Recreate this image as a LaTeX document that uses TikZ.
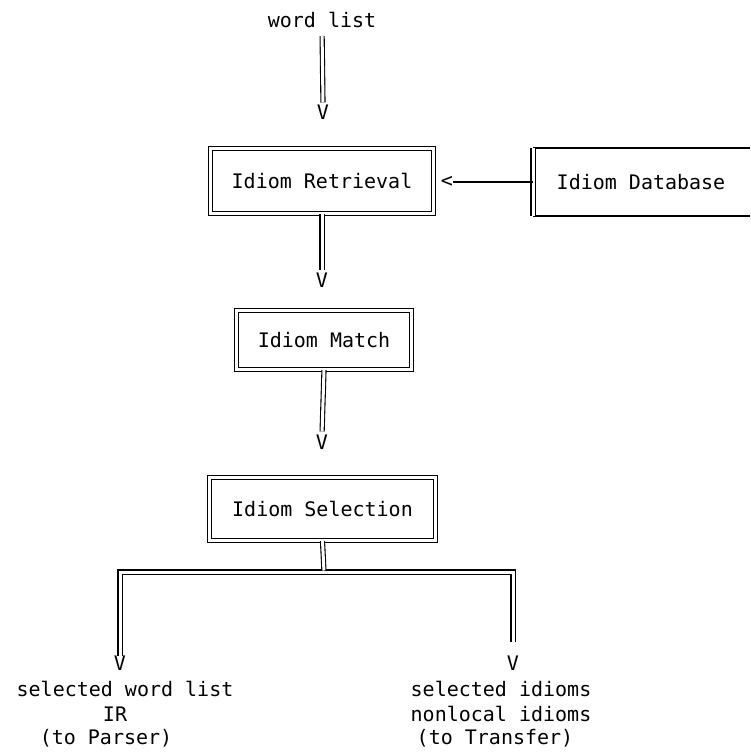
\documentclass[tikz,border=0pt]{standalone}
\usepackage{fontspec}
\newfontfamily\monofam{DejaVu Sans Mono}
\begin{document}
\begin{tikzpicture}[x=1pt,y=1pt,
  txt/.style={font=\monofam\fontsize{20}{26}\selectfont, inner sep=0pt},
  dblline/.style={draw, double, double distance=3pt, line width=1.1pt},
  boxst/.style={txt, dblline},
  feed/.style={draw, line width=1.5pt}
]
\useasboundingbox (0,0) rectangle (750,-752);
% texts and boxes
\node[txt] (wl) at (322,-20) {word list};
\node[txt] (v1) at (323,-112) {V};
\node[boxst, minimum width=223, minimum height=65] (ret) at (322,-181) {Idiom Retrieval};
\node[txt] (lt) at (447,-182) {<};
\node[txt] (db) at (641,-182) {Idiom Database};
\coordinate (dbtl) at (533,-148);
\coordinate (dbbl) at (533,-216);
\coordinate (dbtr) at (750,-148);
\coordinate (dbbr) at (750,-216);
\coordinate (dbml) at (533,-182);
\node[txt] (v2) at (322,-280) {V};
\node[boxst, minimum width=175, minimum height=59] (mat) at (324,-340) {Idiom Match};
\node[txt] (v3) at (322,-442) {V};
\node[boxst, minimum width=226, minimum height=63] (sel) at (322.5,-509) {Idiom Selection};
\coordinate (jn) at (324,-572);
\node[txt] (vl) at (120,-663) {V};
\node[txt] (vr) at (513,-663) {V};
\node[txt] (l1) at (125,-689) {selected word list};
\node[txt] (l2) at (115,-714) {IR};
\node[txt] (l3) at (106,-738) {(to Parser)};
\node[txt] (r1) at (501,-689) {selected idioms};
\node[txt] (r2) at (501,-714) {nonlocal idioms};
\node[txt] (r3) at (495,-738) {(to Transfer)};
% database box (open to the right edge)
\draw[line width=1.3pt] (dbtl) -- (dbtr);
\draw[line width=1.3pt] (dbbl) -- (dbbr);
\draw[dblline] (dbtl) -- (dbbl);
% connectors
\draw[dblline, shorten <=8pt, shorten >=2pt] (wl.south) -- (v1.north);
\draw[dblline, shorten >=3pt] (ret.south) -- (v2.north);
\draw[dblline, shorten >=3pt] (mat.south) -- (v3.north);
\draw[feed] (dbml) -- (lt.east);
\draw[dblline, shorten >=14pt] (vl.north) |- (jn) -| (vr.north);
\draw[dblline, shorten >=1.5pt] (sel.south) -- (jn);
\end{tikzpicture}
\end{document}
